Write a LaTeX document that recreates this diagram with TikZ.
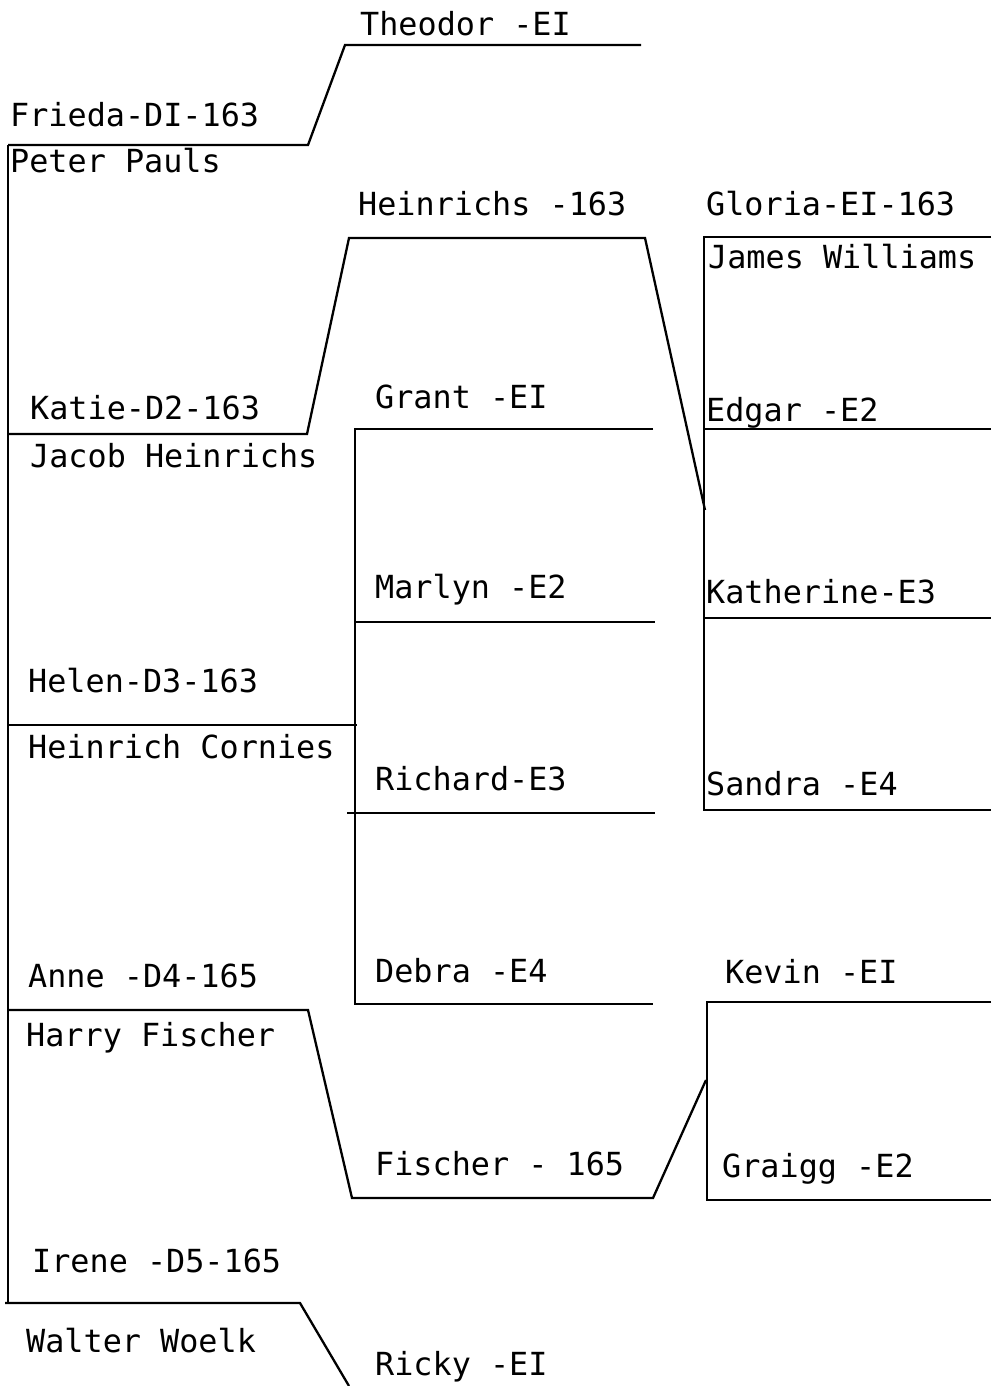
\documentclass[tikz,border=0pt]{standalone}
\usepackage{fontspec}
\newfontfamily\plotfont{DejaVu Sans Mono}
\begin{document}
\begin{tikzpicture}[x=1pt,y=-1pt,
  lbl/.style={anchor=base west,inner sep=0pt,font=\plotfont\fontsize{31.8}{33}\selectfont},
  bar/.style={line width=2.3pt,line join=miter}]
\useasboundingbox[fill=white] (0,0) rectangle (991,1386);
% coordinates
\coordinate (t1) at (345,45);  \coordinate (t2) at (641,45);
\coordinate (f1) at (8,145);   \coordinate (f2) at (308,145);
\coordinate (h1) at (349,238); \coordinate (h2) at (645,238); \coordinate (h3) at (705,510);
\coordinate (k1) at (8,434);   \coordinate (k2) at (307,434);
\coordinate (g1) at (355,429); \coordinate (g2) at (653,429);
\coordinate (m1) at (355,622); \coordinate (m2) at (655,622);
\coordinate (he1) at (8,725);  \coordinate (he2) at (357,725);
\coordinate (r1) at (347,813); \coordinate (r2) at (655,813);
\coordinate (d1) at (355,1004);\coordinate (d2) at (653,1004);
\coordinate (a1) at (8,1010);  \coordinate (a2) at (308,1010);
\coordinate (fi1) at (352,1198);\coordinate (fi2) at (653,1198); \coordinate (fi3) at (706,1080);
\coordinate (i0) at (8,1303); \coordinate (i1) at (5,1303); \coordinate (i2) at (300,1303); \coordinate (i3) at (349,1386);
\coordinate (gl1) at (704,237); \coordinate (gl2) at (991,237);
\coordinate (e1) at (704,429); \coordinate (e2) at (991,429);
\coordinate (ka1) at (704,618);\coordinate (ka2) at (991,618);
\coordinate (s1) at (704,810); \coordinate (s2) at (991,810);
\coordinate (kv1) at (707,1002);\coordinate (kv2) at (991,1002);
\coordinate (gr1) at (707,1200);\coordinate (gr2) at (991,1200);
% lines
\draw[bar] (f1) -- (i0);
\draw[bar] (f1) -- (f2) -- (t1) -- (t2);
\draw[bar] (k1) -- (k2) -- (h1) -- (h2) -- (h3);
\draw[bar] (he1) -- (he2);
\draw[bar] (g2) -- (g1) -- (d1) -- (d2);
\draw[bar] (m1) -- (m2);
\draw[bar] (r1) -- (r2);
\draw[bar] (a1) -- (a2) -- (fi1) -- (fi2) -- (fi3);
\draw[bar] (i1) -- (i2) -- (i3);
\draw[bar] (gl2) -- (gl1) -- (s1) -- (s2);
\draw[bar] (e1) -- (e2);
\draw[bar] (ka1) -- (ka2);
\draw[bar] (kv2) -- (kv1) -- (gr1) -- (gr2);
% labels
\node[lbl] (theodor) at (360,36) {Theodor -EI};
\node[lbl] (frieda) at (10,127) {Frieda-DI-163};
\node[lbl] (peter) at (10,172) {Peter Pauls};
\node[lbl] (heinrichs) at (358,215) {Heinrichs -163};
\node[lbl] (gloria) at (706,215) {Gloria-EI-163};
\node[lbl] (james) at (708,268) {James Williams};
\node[lbl] (grant) at (375,408) {Grant -EI};
\node[lbl] (katie) at (30,419) {Katie-D2-163};
\node[lbl] (edgar) at (706,421) {Edgar -E2};
\node[lbl] (jacob) at (30,467) {Jacob Heinrichs};
\node[lbl] (marlyn) at (375,598) {Marlyn -E2};
\node[lbl] (katherine) at (706,603) {Katherine-E3};
\node[lbl] (helen) at (28,692) {Helen-D3-163};
\node[lbl] (cornies) at (28,758) {Heinrich Cornies};
\node[lbl] (richard) at (375,790) {Richard-E3};
\node[lbl] (sandra) at (706,795) {Sandra -E4};
\node[lbl] (debra) at (375,982) {Debra -E4};
\node[lbl] (kevin) at (725,983) {Kevin -EI};
\node[lbl] (anne) at (28,987) {Anne -D4-165};
\node[lbl] (harry) at (26,1046) {Harry Fischer};
\node[lbl] (fischer) at (375,1175) {Fischer - 165};
\node[lbl] (graigg) at (722,1177) {Graigg -E2};
\node[lbl] (irene) at (32,1272) {Irene -D5-165};
\node[lbl] (walter) at (26,1352) {Walter Woelk};
\node[lbl] (ricky) at (375,1375) {Ricky -EI};
\end{tikzpicture}
\end{document}
